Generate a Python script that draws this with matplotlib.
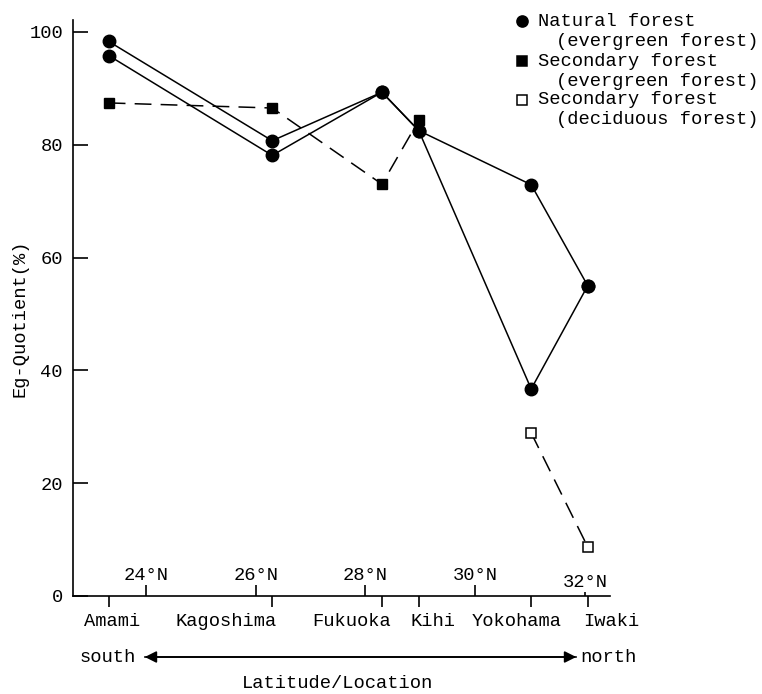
import matplotlib
matplotlib.use("Agg")
import matplotlib.pyplot as plt
from matplotlib.lines import Line2D
from matplotlib.patches import FancyArrowPatch
from matplotlib.transforms import ScaledTranslation

# ---------------- data ----------------
locations = ["Amami", "Kagoshima", "Fukuoka", "Kihi", "Yokohama", "Iwaki"]
location_lat = [23.32, 26.30, 28.30, 28.97, 31.02, 32.05]
lat_ticks = [24, 26, 28, 30, 32]
lat_labels = ["24°N", "26°N", "28°N", "30°N", "32°N"]

natural_a = [98.3, 80.7, 89.3, 82.5, 72.9, 55.0]
natural_b = [95.8, 78.1, 89.3, 82.5, 36.7, 55.0]
secondary_evergreen = [87.4, 86.5, 73.0, 84.3]          # Amami..Kihi
secondary_deciduous = [28.9, 8.7]                        # Yokohama, Iwaki

y_ticks = [0, 20, 40, 60, 80, 100]

# ---------------- style ----------------
FONT = "Liberation Mono"
FS = 13.5
plt.rcParams["font.family"] = [FONT, "DejaVu Sans"]
plt.rcParams["font.size"] = FS

W, H = 762, 694
fig = plt.figure(figsize=(W / 100, H / 100), dpi=100)


def fx(px):
    return px / W


def fy(py):
    return 1 - py / H


ax = fig.add_axes([fx(72.7), fy(596), fx(610) - fx(72.7), fy(20) - fy(596)])
ax.set_xlim(22.664, 32.456)
ax.set_ylim(0, 102.1)
for s in ("top", "right"):
    ax.spines[s].set_visible(False)
for s in ("left", "bottom"):
    ax.spines[s].set_linewidth(1.2)

# lines and markers
ax.plot(location_lat, natural_a, color="black", lw=1.1, marker="o",
        ms=9, mfc="black", mec="black", zorder=3)
ax.plot(location_lat, natural_b, color="black", lw=1.1, marker="o",
        ms=9, mfc="black", mec="black", zorder=3)
ax.plot(location_lat[:4], secondary_evergreen, color="black", lw=1.1,
        ls=(0, (11, 6)), marker="s", ms=7, mfc="black", mec="black", zorder=3)
ax.plot(location_lat[4:], secondary_deciduous, color="black", lw=1.1,
        ls=(0, (11, 6)), marker="s", ms=7.5, mfc="white", mec="black",
        mew=1.1, zorder=3)

# y axis
ax.set_yticks(y_ticks)
ax.set_yticklabels([str(v) for v in y_ticks])
ax.tick_params(axis="y", direction="in", length=11, width=1.2, pad=7,
               labelsize=FS)

# location ticks (below axis)
ax.set_xticks(location_lat)
ax.set_xticklabels(locations)
ax.tick_params(axis="x", direction="out", length=8, width=1.2, pad=4,
               labelsize=FS)
label_dx = [3, -46, -30, 14, -15, 24]   # horizontal label offsets in pixels
for lab, dx in zip(ax.get_xticklabels(), label_dx):
    lab.set_transform(lab.get_transform() +
                      ScaledTranslation(dx / 100, 0, fig.dpi_scale_trans))

# latitude ticks (inside, labels above axis)
sec = ax.secondary_xaxis("bottom")
sec.set_xticks(lat_ticks)
sec.set_xticklabels(lat_labels)
sec.tick_params(axis="x", direction="in", length=8, width=1.2, pad=-21,
                labelsize=FS)
sec.spines["bottom"].set_visible(False)
# the 32°N tick is shorter and its label sits lower in the reference
last_tick = sec.xaxis.get_major_ticks()[-1]
last_tick.tick1line.set_markersize(3)
last_lab = sec.get_xticklabels()[-1]
last_lab.set_transform(last_lab.get_transform() +
                       ScaledTranslation(0, -7 / 100, fig.dpi_scale_trans))

# axis titles
fig.text(fx(20), fy(318), "Eg-Quotient(%)", rotation=90, ha="center",
         va="center", fontsize=FS)
fig.text(fx(337), fy(683), "Latitude/Location", ha="center", va="center",
         fontsize=FS)

# south <-> north arrow
fig.text(fx(80), fy(657), "south", ha="left", va="center", fontsize=FS)
fig.text(fx(580), fy(657), "north", ha="left", va="center", fontsize=FS)
for a, b in (((142, 657), (579, 657)), ((579, 657), (142, 657))):
    fig.add_artist(FancyArrowPatch((fx(a[0]), fy(a[1])), (fx(b[0]), fy(b[1])),
                                   transform=fig.transFigure,
                                   arrowstyle="-|>,head_length=7,head_width=3.5",
                                   color="black", lw=1.2, mutation_scale=1))

# legend (manual)
legend_rows = [
    ("o", "black", "Natural forest", "(evergreen forest)", 21),
    ("s", "black", "Secondary forest", "(evergreen forest)", 61),
    ("s", "white", "Secondary forest", "(deciduous forest)", 100),
]
for mk, fc, l1, l2, py in legend_rows:
    fig.add_artist(Line2D([fx(522)], [fy(py)], transform=fig.transFigure,
                          marker=mk, ms=8 if mk == "o" else 7, mfc=fc,
                          mec="black", mew=1.1, ls="none"))
    fig.text(fx(538), fy(py), l1, ha="left", va="center", fontsize=FS)
    fig.text(fx(556), fy(py + 20), l2, ha="left", va="center", fontsize=FS)

fig.savefig("out.png", dpi=100)
